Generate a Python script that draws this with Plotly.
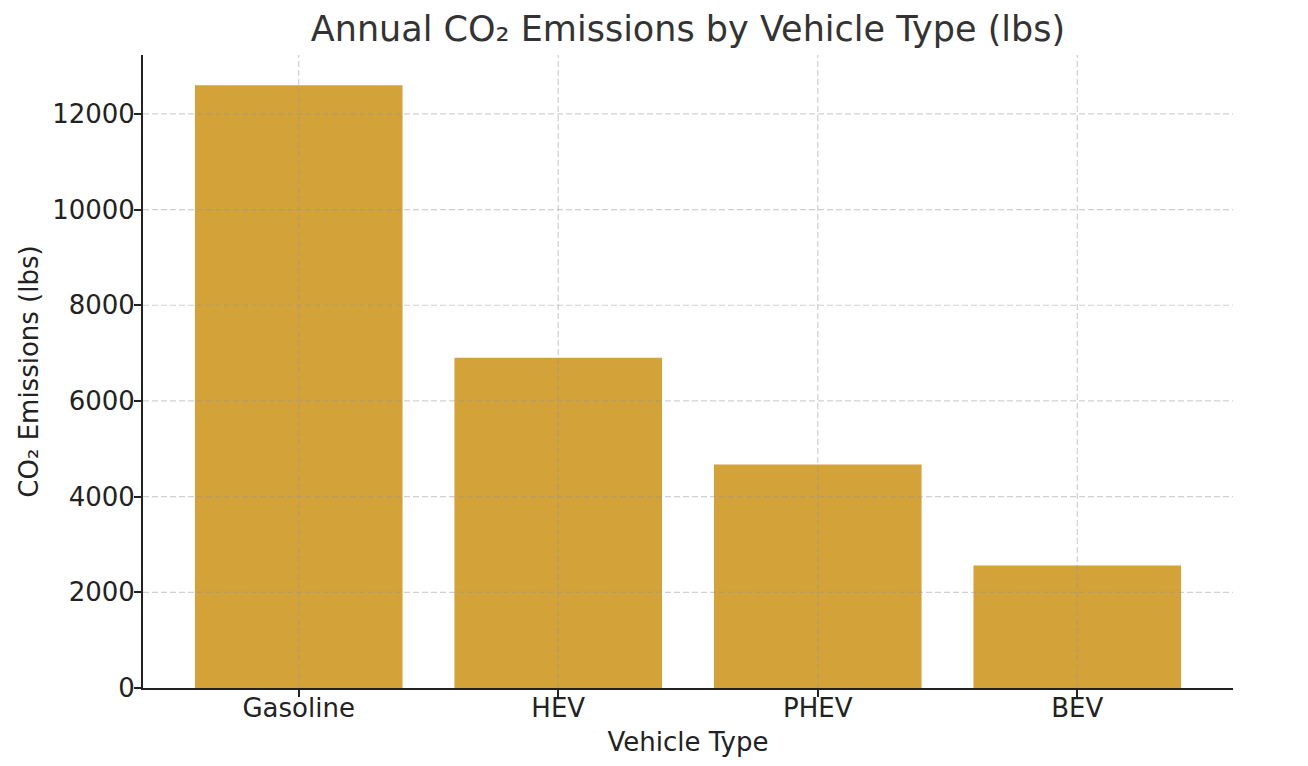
import plotly.graph_objects as go

categories = ["Gasoline", "HEV", "PHEV", "BEV"]
emissions = [12600, 6900, 4670, 2560]
y_ticks = [0, 2000, 4000, 6000, 8000, 10000, 12000]

bar_color = "#D3A238"
grid_color = "rgba(150,150,150,0.45)"

W, H = 1292, 750

fig = go.Figure()
fig.add_trace(go.Bar(
    x=list(range(len(categories))),
    y=emissions,
    width=0.8,
    marker=dict(color=bar_color, line=dict(width=0)),
    hoverinfo="skip",
))

shapes = []
for i in range(len(categories)):
    shapes.append(dict(type="line", xref="x", yref="paper", x0=i, x1=i, y0=0, y1=1,
                       line=dict(color=grid_color, width=1.2, dash="6px,3px"), layer="above"))
for t in y_ticks[1:]:
    shapes.append(dict(type="line", xref="paper", yref="y", x0=0, x1=1, y0=t, y1=t,
                       line=dict(color=grid_color, width=1.2, dash="6px,3px"), layer="above"))

fig.update_layout(
    width=W, height=H,
    margin=dict(l=135, r=67, t=47, b=70),
    paper_bgcolor="white", plot_bgcolor="white",
    font=dict(family="DejaVu Sans", color="#222222", size=26),
    title=dict(text="Annual CO₂ Emissions by Vehicle Type (lbs)", x=0.5, xref="paper", xanchor="center",
               y=1 - 21 / H, yref="container", yanchor="middle",
               font=dict(size=35, color="#333333", family="DejaVu Sans")),
    showlegend=False,
    shapes=shapes,
    bargap=0.2,
)
fig.update_xaxes(
    tickmode="array", tickvals=list(range(len(categories))), ticktext=categories,
    range=[-0.6, len(categories) - 0.4],
    showgrid=False, zeroline=False, automargin=False,
    showline=True, linecolor="#222222", linewidth=1.8,
    ticks="outside", ticklen=7, tickwidth=1.6, tickcolor="#222222",
    tickfont=dict(size=26), ticklabelstandoff=-11,
    title=dict(text="Vehicle Type", font=dict(size=26), standoff=11),
)
fig.update_yaxes(
    tickmode="array", tickvals=y_ticks, ticktext=[str(t) for t in y_ticks],
    range=[0, 13230],
    showgrid=False, zeroline=False, automargin=False,
    showline=True, linecolor="#222222", linewidth=1.8,
    ticks="outside", ticklen=7, tickwidth=1.6, tickcolor="#222222",
    tickfont=dict(size=26), ticklabelstandoff=-6,
    title=dict(text="CO₂ Emissions (lbs)", font=dict(size=26), standoff=6),
)

fig.write_html("out.html")
